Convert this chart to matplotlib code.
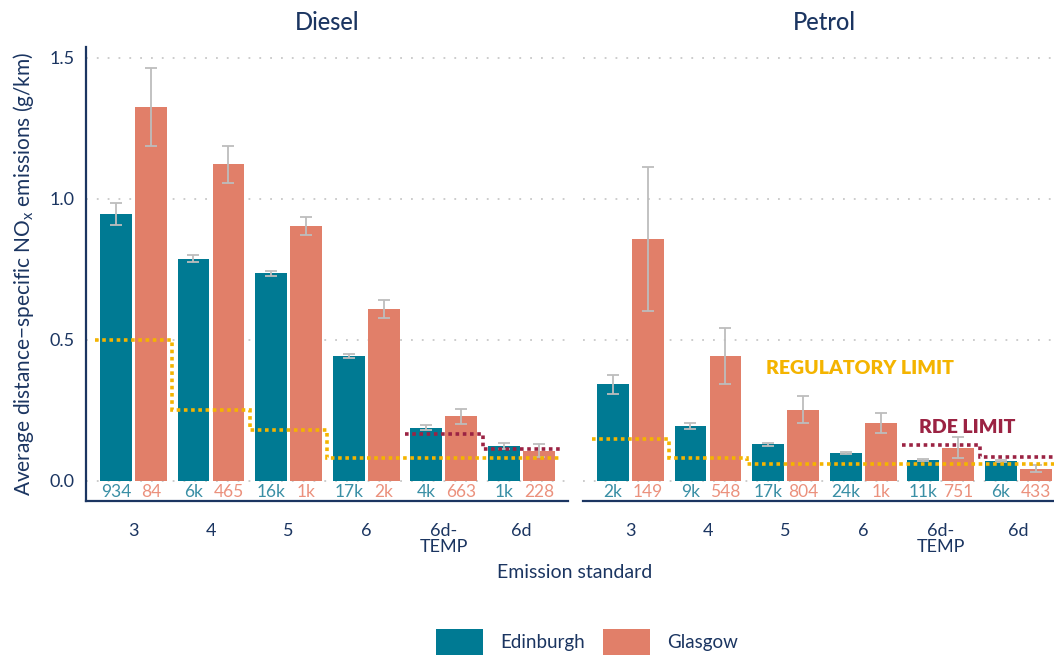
import numpy as np
import matplotlib
matplotlib.use('Agg')
import matplotlib.pyplot as plt
from matplotlib.patches import Patch

plt.rcParams['font.family'] = ['Lato', 'DejaVu Sans']

# Data
standards = ['3', '4', '5', '6', '6d-\nTEMP', '6d']
fuels = ['Diesel', 'Petrol']

edi_mean = {'Diesel': [0.947, 0.788, 0.738, 0.443, 0.187, 0.123],
            'Petrol': [0.344, 0.195, 0.131, 0.099, 0.074, 0.071]}
edi_lo = {'Diesel': [0.907, 0.775, 0.728, 0.437, 0.180, 0.115],
          'Petrol': [0.308, 0.184, 0.123, 0.095, 0.071, 0.067]}
edi_hi = {'Diesel': [0.986, 0.800, 0.746, 0.449, 0.197, 0.136],
          'Petrol': [0.375, 0.207, 0.135, 0.104, 0.077, 0.074]}

gla_mean = {'Diesel': [1.326, 1.124, 0.904, 0.610, 0.230, 0.106],
            'Petrol': [0.858, 0.443, 0.252, 0.206, 0.118, 0.043]}
gla_lo = {'Diesel': [1.188, 1.057, 0.872, 0.578, 0.201, 0.086],
          'Petrol': [0.603, 0.343, 0.204, 0.170, 0.080, 0.031]}
gla_hi = {'Diesel': [1.465, 1.188, 0.936, 0.642, 0.256, 0.132],
          'Petrol': [1.113, 0.544, 0.300, 0.242, 0.156, 0.056]}

edi_n = {'Diesel': ['934', '6k', '16k', '17k', '4k', '1k'],
         'Petrol': ['2k', '9k', '17k', '24k', '11k', '6k']}
gla_n = {'Diesel': ['84', '465', '1k', '2k', '663', '228'],
         'Petrol': ['149', '548', '804', '1k', '751', '433']}

reg_limit = {'Diesel': [0.50, 0.25, 0.18, 0.08, 0.08, 0.08],
             'Petrol': [0.15, 0.08, 0.06, 0.06, 0.06, 0.06]}
rde_limit = {'Diesel': [0.168, 0.114],
             'Petrol': [0.126, 0.0858]}

# Colours
teal = '#007a93'
salmon = '#e17f69'
teal_txt = '#3a8fa5'
salmon_txt = '#eb917d'
navy = '#1b3561'
reg_col = '#f4b400'
rde_col = '#9b2343'
err_col = '#bdbdbd'
grid_col = '#c8c8c8'

fig = plt.figure(figsize=(10.54, 6.57), dpi=100)
W = 482 / 1054
bottom = 1 - 501 / 657
height = (501 - 47) / 657
ax_l = fig.add_axes([86 / 1054, bottom, W, height])
ax_r = fig.add_axes([583 / 1054, bottom, W, height])

x = np.arange(len(standards))
bw = 0.41
off = 0.225

for ax, fuel in zip([ax_l, ax_r], fuels):
    em = np.array(edi_mean[fuel])
    gm = np.array(gla_mean[fuel])
    ax.bar(x - off, em, width=bw, color=teal, zorder=2)
    ax.bar(x + off, gm, width=bw, color=salmon, zorder=2)
    ax.errorbar(x - off, em, yerr=[em - np.array(edi_lo[fuel]), np.array(edi_hi[fuel]) - em],
                fmt='none', ecolor=err_col, elinewidth=1.3, capsize=4.5, capthick=1.3, zorder=3)
    ax.errorbar(x + off, gm, yerr=[gm - np.array(gla_lo[fuel]), np.array(gla_hi[fuel]) - gm],
                fmt='none', ecolor=err_col, elinewidth=1.3, capsize=4.5, capthick=1.3, zorder=3)

    # limit step lines
    ax.stairs(reg_limit[fuel], np.arange(-0.5, 6.0, 1.0), baseline=None,
              color=reg_col, lw=2.6, linestyle=(0, (1, 1)), zorder=4)
    ax.stairs(rde_limit[fuel], np.array([3.5, 4.5, 5.5]), baseline=None,
              color=rde_col, lw=2.6, linestyle=(0, (1, 1)), zorder=4)

    # counts
    for i in range(len(standards)):
        ax.text(x[i] - off, -0.04, edi_n[fuel][i], color=teal_txt, ha='center', va='center', fontsize=12.5)
        ax.text(x[i] + off, -0.04, gla_n[fuel][i], color=salmon_txt, ha='center', va='center', fontsize=12.5)

    ax.set_xlim(-0.61, 5.6)
    ax.set_ylim(-0.071, 1.539)
    ax.set_yticks([0, 0.5, 1.0, 1.5])
    ax.set_xticks(x)
    ax.set_xticklabels(standards, fontsize=13, color=navy, linespacing=1.0, va='top')
    ax.tick_params(axis='x', length=0, pad=16)
    ax.tick_params(axis='y', length=0, pad=8, labelsize=13, labelcolor=navy)
    ax.grid(axis='y', color=grid_col, linestyle=(0, (1, 5)), lw=1.3, zorder=0)
    for s in ['top', 'right']:
        ax.spines[s].set_visible(False)
    ax.spines['bottom'].set_color(navy)
    ax.spines['bottom'].set_linewidth(1.6)
    ax.spines['left'].set_color(navy)
    ax.spines['left'].set_linewidth(1.6)
    ax.text(0.5, 1 + 25 / 454, fuel, transform=ax.transAxes, ha='center', va='center',
            fontsize=17, fontweight='medium', color=navy)

ax_r.spines['left'].set_visible(False)
ax_r.tick_params(axis='y', labelleft=False)

ax_r.text(2.96, 0.40, 'REGULATORY LIMIT', color=reg_col, fontsize=14, fontweight='heavy',
          ha='center', va='center', zorder=5)
ax_r.text(4.34, 0.188, 'RDE LIMIT', color=rde_col, fontsize=14, fontweight='heavy',
          ha='center', va='center', zorder=5)

ax_l.set_ylabel('Average distance\u2212specific NO$_\\mathregular{x}$ emissions (g/km)',
                fontsize=15, color=navy)
ax_l.yaxis.set_label_coords(-50 / 482, 0.5)

fig.text(575 / 1054, 1 - 573 / 657, 'Emission standard', ha='center', va='center',
         fontsize=14, color=navy)

handles = [Patch(facecolor=teal, label='Edinburgh'), Patch(facecolor=salmon, label='Glasgow')]
leg = fig.legend(handles=handles, loc='center', bbox_to_anchor=(587 / 1054, 1 - 642 / 657),
                 ncol=2, frameon=False, fontsize=13.5, handlelength=2.5, handleheight=1.75,
                 columnspacing=1.0, handletextpad=0.9)
for t in leg.get_texts():
    t.set_color(navy)

fig.savefig('out.png', dpi=100)
